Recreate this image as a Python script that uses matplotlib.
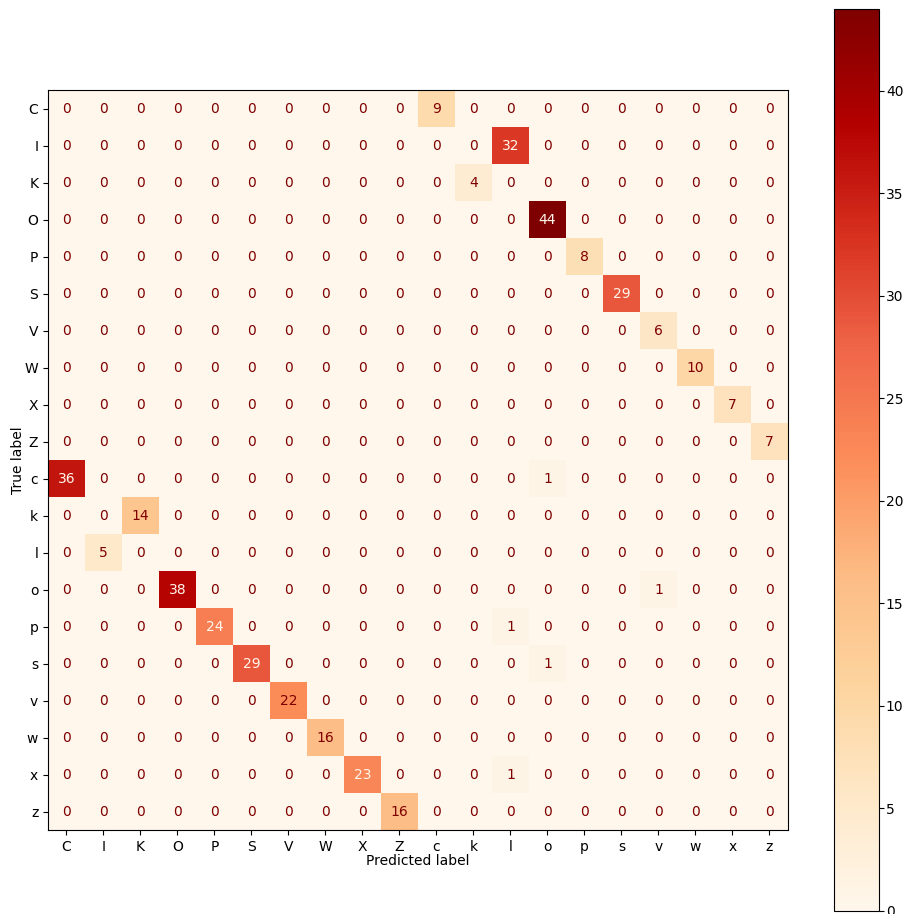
import numpy as np
import matplotlib
matplotlib.use("Agg")
import matplotlib.pyplot as plt

labels = ["C", "I", "K", "O", "P", "S", "V", "W", "X", "Z",
          "c", "k", "l", "o", "p", "s", "v", "w", "x", "z"]

# (true label, predicted label, count) for non-zero cells
nonzero = [
    ("C", "c", 9), ("I", "l", 32), ("K", "k", 4), ("O", "o", 44),
    ("P", "p", 8), ("S", "s", 29), ("V", "v", 6), ("W", "w", 10),
    ("X", "x", 7), ("Z", "z", 7),
    ("c", "C", 36), ("c", "o", 1),
    ("k", "K", 14), ("l", "I", 5),
    ("o", "O", 38), ("o", "v", 1),
    ("p", "P", 24), ("p", "l", 1),
    ("s", "S", 29), ("s", "o", 1),
    ("v", "V", 22), ("w", "W", 16),
    ("x", "X", 23), ("x", "l", 1),
    ("z", "Z", 16),
]

n = len(labels)
cm = np.zeros((n, n), dtype=int)
for t, p, v in nonzero:
    cm[labels.index(t), labels.index(p)] = v

cmap = plt.get_cmap("OrRd")
fig = plt.figure(figsize=(9.05, 9.14), dpi=100)
ax = fig.add_axes([0.053, 0.0919, 0.8177, 0.8096])
cax = fig.add_axes([0.9215, 0.0033, 0.0497, 0.9869])

im = ax.imshow(cm, interpolation="nearest", cmap=cmap)
thresh = (cm.max() + cm.min()) / 2.0
cmin, cmax = cmap(0), cmap(1.0)
for i in range(n):
    for j in range(n):
        color = cmin if cm[i, j] > thresh else cmax
        ax.text(j, i, format(cm[i, j], "d"), ha="center", va="center", color=color)

fig.colorbar(im, cax=cax)
cax.tick_params(pad=1.5)
ax.set_xticks(np.arange(n))
ax.set_yticks(np.arange(n))
ax.set_xticklabels(labels)
ax.set_yticklabels(labels)
ax.set_xlabel("Predicted label", labelpad=0)
ax.set_ylabel("True label", labelpad=0)
ax.set_ylim(n - 0.5, -0.5)

fig.savefig("out.png", dpi=100)
